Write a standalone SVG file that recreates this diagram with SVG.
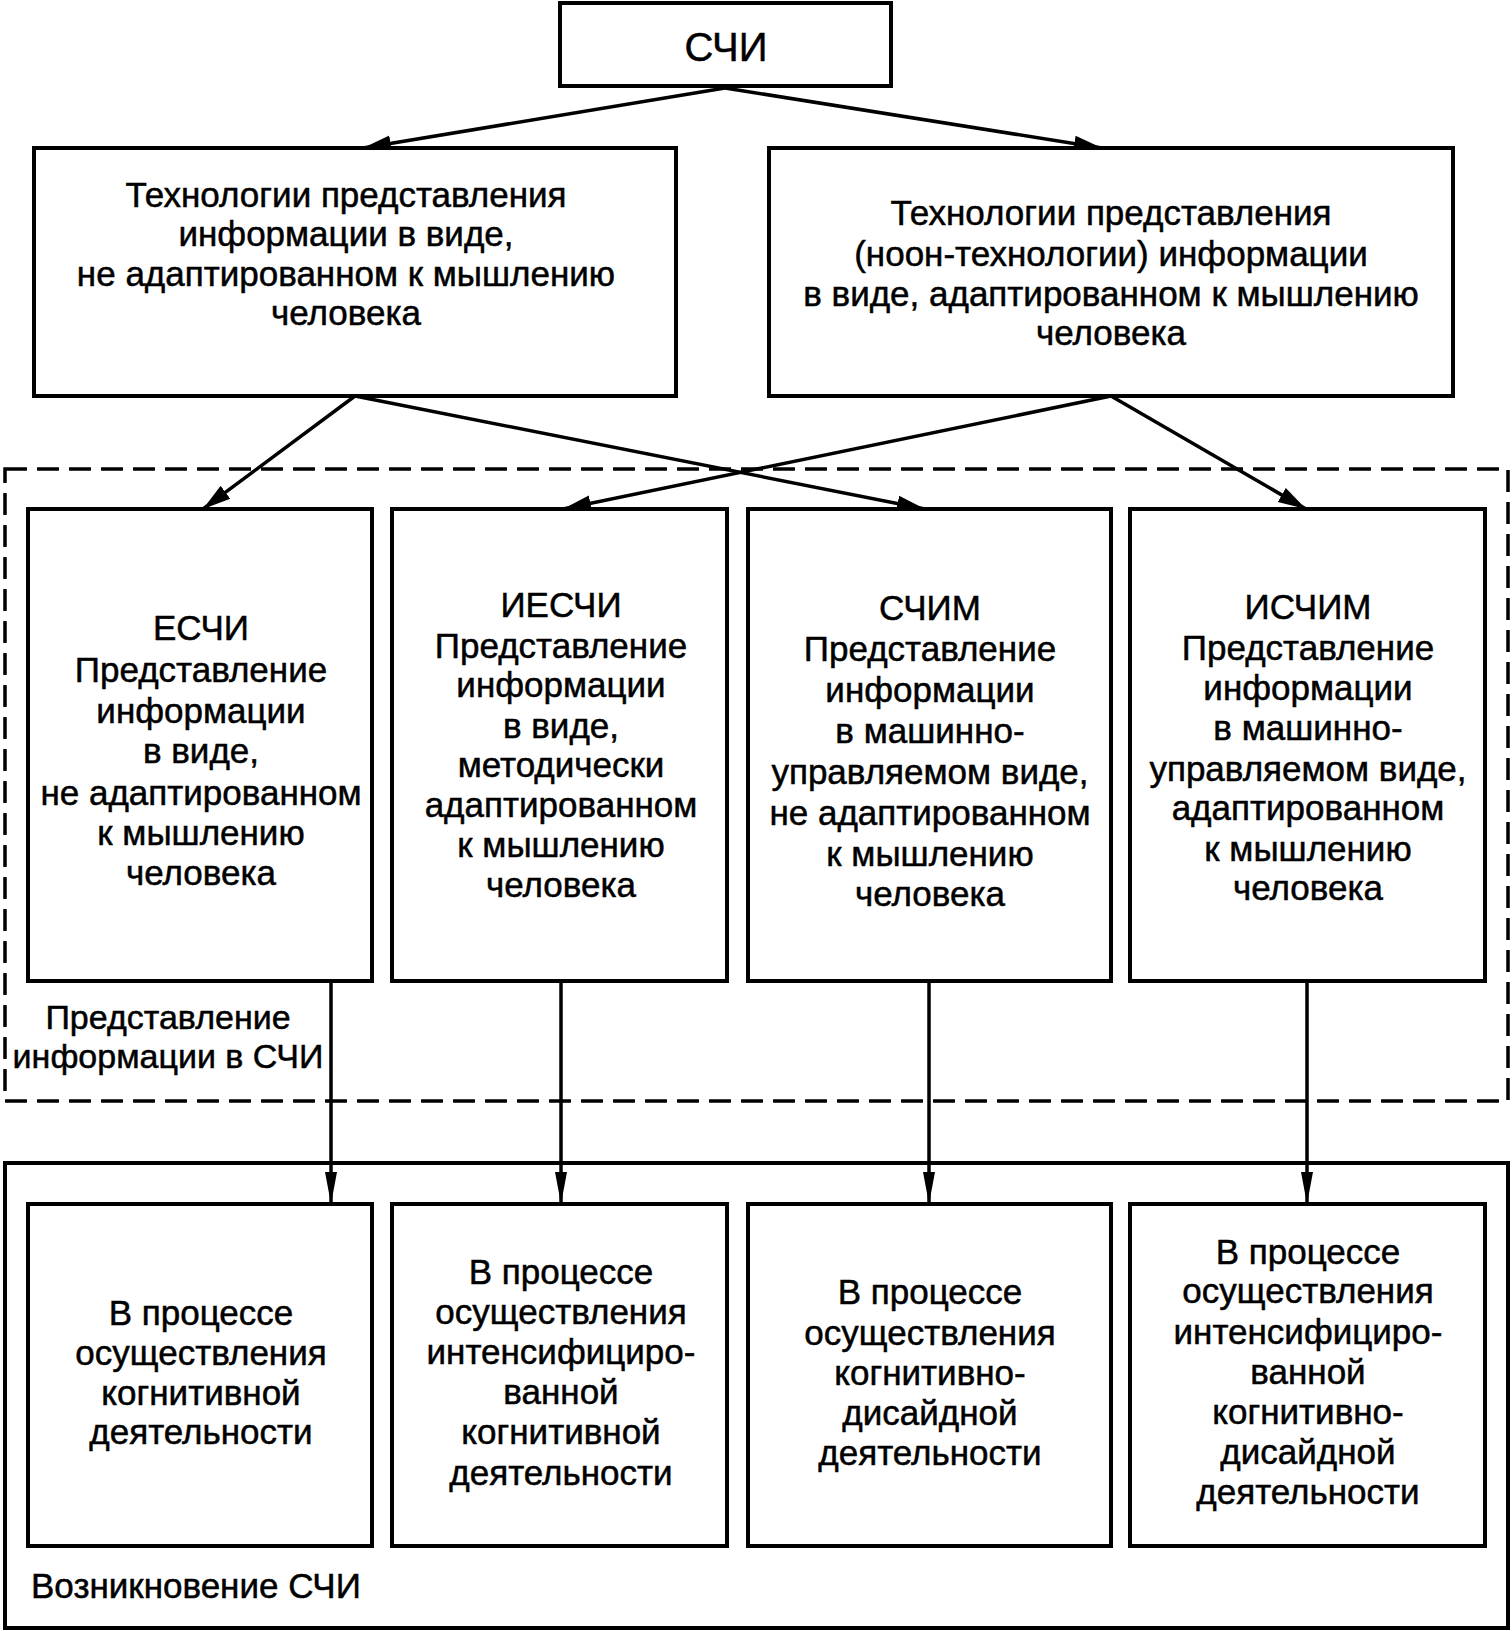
<svg xmlns="http://www.w3.org/2000/svg" width="1512" height="1631" viewBox="0 0 1512 1631">
<defs>
<style>
.box{fill:#fff;stroke:#000;stroke-width:4}
.dash{fill:none;stroke:#000;stroke-width:3.5;stroke-dasharray:22 10}
.c{fill:none;stroke:#000;stroke-width:3.5}
text{font-family:"Liberation Sans",Arial,sans-serif;font-size:35px;fill:#000;stroke:#000;stroke-width:0.5;text-anchor:middle}
.l{text-anchor:start}
</style>
<marker id="ah" markerUnits="userSpaceOnUse" markerWidth="30" markerHeight="20" viewBox="0 0 30 20" refX="28" refY="10" orient="auto">
<path d="M0,2 L28,10 L0,18 Z" fill="#000"/>
</marker>
<marker id="av" markerUnits="userSpaceOnUse" markerWidth="34" markerHeight="14" viewBox="0 0 34 14" refX="32" refY="7" orient="auto">
<path d="M0,1 L32,7 L0,13 Z" fill="#000"/>
</marker>
</defs>
<rect width="1512" height="1631" fill="#fff"/>

<g id="group-representation">
<rect class="dash" x="5" y="469" width="1503" height="632"/>
<text x="168" y="1029" style="font-size:34px">Представление</text>
<text x="168" y="1068" style="font-size:34px">информации в СЧИ</text>
</g>

<g id="group-emergence">
<rect class="box" x="5" y="1163" width="1503" height="465" fill="none"/>
<text class="l" x="31" y="1598">Возникновение СЧИ</text>
</g>

<g id="connectors">
<line class="c" x1="725" y1="88" x2="363" y2="148" marker-end="url(#ah)"/>
<line class="c" x1="725" y1="88" x2="1102" y2="148" marker-end="url(#ah)"/>
<line class="c" x1="355" y1="396" x2="203" y2="509" marker-end="url(#ah)"/>
<line class="c" x1="355" y1="396" x2="925" y2="509" marker-end="url(#ah)"/>
<line class="c" x1="1111" y1="396" x2="563" y2="509" marker-end="url(#ah)"/>
<line class="c" x1="1111" y1="396" x2="1306" y2="509" marker-end="url(#ah)"/>
<line class="c" x1="331" y1="981" x2="331" y2="1204" marker-end="url(#av)"/>
<line class="c" x1="561" y1="981" x2="561" y2="1204" marker-end="url(#av)"/>
<line class="c" x1="929" y1="981" x2="929" y2="1204" marker-end="url(#av)"/>
<line class="c" x1="1307" y1="981" x2="1307" y2="1204" marker-end="url(#av)"/>
</g>

<g id="schi">
<rect class="box" x="560" y="3" width="331" height="83"/>
<text x="726" y="61" style="font-size:40px">СЧИ</text>
</g>

<g id="tech-left">
<rect class="box" x="34" y="148" width="642" height="248"/>
<text x="346" y="207">Технологии представления</text>
<text x="346" y="246">информации в виде,</text>
<text x="346" y="286">не адаптированном к мышлению</text>
<text x="346" y="325">человека</text>
</g>

<g id="tech-right">
<rect class="box" x="769" y="148" width="684" height="248"/>
<text x="1111" y="225">Технологии представления</text>
<text x="1111" y="266">(ноон-технологии) информации</text>
<text x="1111" y="306">в виде, адаптированном к мышлению</text>
<text x="1111" y="345">человека</text>
</g>

<g id="eschi">
<rect class="box" x="28" y="509" width="344" height="472"/>
<text x="201" y="640">ЕСЧИ</text>
<text x="201" y="682">Представление</text>
<text x="201" y="723">информации</text>
<text x="201" y="763">в виде,</text>
<text x="201" y="805">не адаптированном</text>
<text x="201" y="845">к мышлению</text>
<text x="201" y="885">человека</text>
</g>

<g id="ieschi">
<rect class="box" x="392" y="509" width="335" height="472"/>
<text x="561" y="617">ИЕСЧИ</text>
<text x="561" y="658">Представление</text>
<text x="561" y="697">информации</text>
<text x="561" y="738">в виде,</text>
<text x="561" y="777">методически</text>
<text x="561" y="817">адаптированном</text>
<text x="561" y="857">к мышлению</text>
<text x="561" y="897">человека</text>
</g>

<g id="schim">
<rect class="box" x="748" y="509" width="363" height="472"/>
<text x="930" y="620">СЧИМ</text>
<text x="930" y="661">Представление</text>
<text x="930" y="702">информации</text>
<text x="930" y="743">в машинно-</text>
<text x="930" y="784">управляемом виде,</text>
<text x="930" y="825">не адаптированном</text>
<text x="930" y="866">к мышлению</text>
<text x="930" y="906">человека</text>
</g>

<g id="ischim">
<rect class="box" x="1130" y="509" width="355" height="472"/>
<text x="1308" y="619">ИСЧИМ</text>
<text x="1308" y="660">Представление</text>
<text x="1308" y="700">информации</text>
<text x="1308" y="740">в машинно-</text>
<text x="1308" y="781">управляемом виде,</text>
<text x="1308" y="820">адаптированном</text>
<text x="1308" y="861">к мышлению</text>
<text x="1308" y="900">человека</text>
</g>

<g id="act1">
<rect class="box" x="28" y="1204" width="344" height="342"/>
<text x="201" y="1325">В процессе</text>
<text x="201" y="1365">осуществления</text>
<text x="201" y="1405">когнитивной</text>
<text x="201" y="1444">деятельности</text>
</g>

<g id="act2">
<rect class="box" x="392" y="1204" width="335" height="342"/>
<text x="561" y="1284">В процессе</text>
<text x="561" y="1324">осуществления</text>
<text x="561" y="1364">интенсифициро-</text>
<text x="561" y="1404">ванной</text>
<text x="561" y="1444">когнитивной</text>
<text x="561" y="1485">деятельности</text>
</g>

<g id="act3">
<rect class="box" x="748" y="1204" width="363" height="342"/>
<text x="930" y="1304">В процессе</text>
<text x="930" y="1345">осуществления</text>
<text x="930" y="1385">когнитивно-</text>
<text x="930" y="1425">дисайдной</text>
<text x="930" y="1465">деятельности</text>
</g>

<g id="act4">
<rect class="box" x="1130" y="1204" width="355" height="342"/>
<text x="1308" y="1264">В процессе</text>
<text x="1308" y="1303">осуществления</text>
<text x="1308" y="1344">интенсифициро-</text>
<text x="1308" y="1384">ванной</text>
<text x="1308" y="1424">когнитивно-</text>
<text x="1308" y="1464">дисайдной</text>
<text x="1308" y="1504">деятельности</text>
</g>
</svg>
